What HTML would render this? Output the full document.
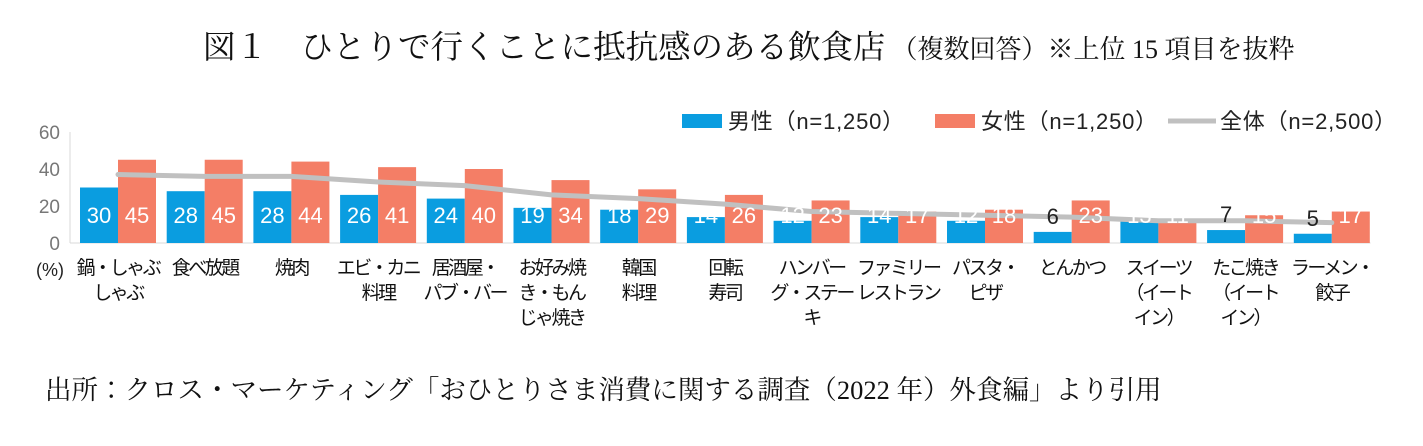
<!DOCTYPE html>
<html><head><meta charset="utf-8">
<style>
html,body{margin:0;padding:0;background:#fff;width:1423px;height:446px;overflow:hidden}
svg{display:block}
.sans{font-family:"Liberation Sans","Noto Sans CJK JP",sans-serif}
.serif{font-family:"Liberation Serif","Noto Serif CJK JP",serif}
</style></head>
<body>
<svg id="chart" width="1423" height="446" xmlns="http://www.w3.org/2000/svg">
<text class="serif" x="203" y="58" font-size="32.5" fill="#111">図１　ひとりで行くことに抵抗感のある飲食店<tspan font-size="26" dx="6">（複数回答）※上位 15 項目を抜粋</tspan></text>
<g id="legend" class="sans" font-size="22" fill="#222">
<rect x="682" y="114" width="40" height="14" fill="#0a9de0"/>
<text x="728" y="129" letter-spacing="0.8">男性（n=1,250）</text>
<rect x="935" y="114" width="40" height="14" fill="#f47e66"/>
<text x="981" y="129" letter-spacing="0.8">女性（n=1,250）</text>
<line x1="1168" y1="121" x2="1216" y2="121" stroke="#c0c0c0" stroke-width="5"/>
<text x="1220" y="129" letter-spacing="0.8">全体（n=2,500）</text>
</g>
<g id="axis" class="sans"></g>
<g id="bars"></g>
<g id="line"></g>
<g id="labels" class="sans"></g>
<g id="cats" class="sans"></g>
<text class="serif" x="45" y="399" font-size="26.5" fill="#111">出所：クロス・マーケティング「おひとりさま消費に関する調査（2022 年）外食編」より引用</text>
</svg>
<script>
const categories=[["鍋・しゃぶ","しゃぶ"],["食べ放題"],["焼肉"],["エビ・カニ","料理"],["居酒屋・","パブ・バー"],["お好み焼","き・もん","じゃ焼き"],["韓国","料理"],["回転","寿司"],["ハンバー","グ・ステー","キ"],["ファミリー","レストラン"],["パスタ・","ピザ"],["とんかつ"],["スイーツ","（イート","イン）"],["たこ焼き","（イート","イン）"],["ラーメン・","餃子"]];
const maleValues=[30,28,28,26,24,19,18,14,12,14,12,6,13,7,5];
const femaleValues=[45,45,44,41,40,34,29,26,23,17,18,23,11,15,17];
const totalValues=[37,36,36,33,31,26,24,21,17,16,15,14,12,12,11];
const yTicks=[0,20,40,60];
const NS="http://www.w3.org/2000/svg";
const x0=70,pitch=86.7,y0=243,yTop=132,yMax=60;
const yS=v=>y0-(y0-yTop)*v/yMax;
const gx=i=>x0+pitch*i;
function mk(t,a,p){const e=document.createElementNS(NS,t);for(const k in a)e.setAttribute(k,a[k]);p.appendChild(e);return e;}
const axis=document.getElementById('axis'),bars=document.getElementById('bars'),line=document.getElementById('line'),labels=document.getElementById('labels'),cats=document.getElementById('cats');
let ya=mk('line',{x1:x0,y1:yTop,x2:x0,y2:y0,stroke:'#d9d9d9','stroke-width':1},axis);


let xa=mk('line',{x1:x0,y1:y0,x2:x0+pitch*15,y2:y0,stroke:'#d9d9d9','stroke-width':1},axis);


yTicks.forEach(v=>{const t=mk('text',{x:x0-10,y:yS(v)+7,'text-anchor':'end','font-size':19,fill:'#777'},axis);t.textContent=v;

});
const pu=mk('text',{x:36,y:276,'font-size':18,fill:'#222'},axis);pu.textContent='(%)';


const bw=38;
categories.forEach((c,i)=>{
 const xm=gx(i)+10,xf=xm+bw;
 const m=mk('rect',{x:xm,y:yS(maleValues[i]),width:bw,height:y0-yS(maleValues[i]),fill:'#0a9de0'},bars);
 
 
 const f=mk('rect',{x:xf,y:yS(femaleValues[i]),width:bw,height:y0-yS(femaleValues[i]),fill:'#f47e66'},bars);
 
 
 const mv=maleValues[i];
 const small=mv<10;
 const ml=mk('text',{x:xm+bw/2,y:small?yS(mv)-8:223,'text-anchor':'middle','font-size':22,fill:small?'#222':'#fff'},labels);ml.textContent=mv;
 
 
 const fl=mk('text',{x:xf+bw/2,y:223,'text-anchor':'middle','font-size':22,fill:'#fff'},labels);fl.textContent=femaleValues[i];
 
 
 const ct=mk('text',{x:gx(i)+10+bw,y:274,'text-anchor':'middle','font-size':19,'letter-spacing':-2.5,fill:'#111'},cats);
 
 
 c.forEach((s,j)=>{const ts=mk('tspan',{x:gx(i)+10+bw,dy:j?25:0},ct);ts.textContent=s;});
});
const pts=totalValues.map((v,i)=>(gx(i)+10+bw)+','+yS(v)).join(' ');
const pl=mk('polyline',{points:pts,fill:'none',stroke:'#c0c0c0','stroke-width':5,'stroke-linejoin':'round','stroke-linecap':'round'},line);


</script>
</body></html>
